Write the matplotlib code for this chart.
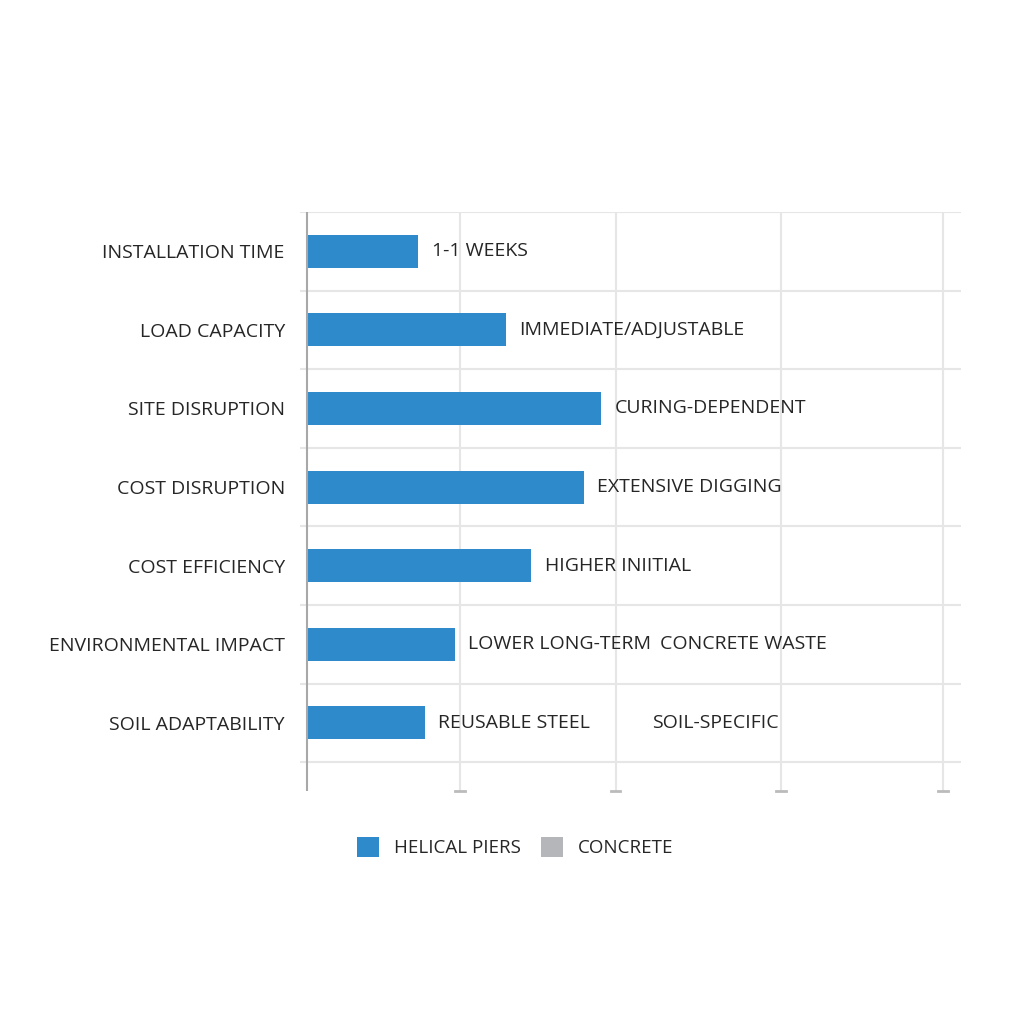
import matplotlib.pyplot as plt

plt.rcParams['font.family'] = ['Open Sans', 'DejaVu Sans']

categories = ['INSTALLATION TIME', 'LOAD CAPACITY', 'SITE DISRUPTION', 'COST DISRUPTION',
              'COST EFFICIENCY', 'ENVIRONMENTAL IMPACT', 'SOIL ADAPTABILITY']
helical_values = [0.70, 1.25, 1.85, 1.74, 1.41, 0.93, 0.74]
helical_labels = ['1-1 WEEKS', 'IMMEDIATE/ADJUSTABLE', 'CURING-DEPENDENT', 'EXTENSIVE DIGGING',
                  'HIGHER INIITIAL', 'LOWER LONG-TERM', 'REUSABLE STEEL']
concrete_values = [0, 0, 0, 0, 0, 0, 0]
concrete_labels = ['', '', '', '', '', 'CONCRETE WASTE', 'SOIL-SPECIFIC']
concrete_label_x = [0, 0, 0, 0, 0, 2.22, 2.17]

blue = '#2F8ACB'
gray = '#B4B6B9'
text_color = '#262626'

fig = plt.figure(figsize=(10.24, 10.24), dpi=100)
ax = fig.add_axes([0.293, 0.228, 0.645, 0.565])

y = range(len(categories))
ax.barh(y, helical_values, height=0.42, color=blue, label='HELICAL PIERS', zorder=3)
ax.barh(y, concrete_values, height=0.42, color=gray, label='CONCRETE', zorder=3)

# value labels next to the bars
for i, (v, lab) in enumerate(zip(helical_values, helical_labels)):
    ax.annotate(lab, (v, i), xytext=(9.5, 0), textcoords='offset points', va='center',
                ha='left', fontsize=14, color=text_color)
for i, lab in enumerate(concrete_labels):
    if lab:
        ax.text(concrete_label_x[i], i, lab, va='center', ha='left', fontsize=14, color=text_color)

ax.set_yticks(list(y))
ax.set_yticklabels(categories, fontsize=14, color=text_color)
ax.set_ylim(6.86, -0.5)
ax.set_xlim(-0.045, 4.11)

for b in [i - 0.5 for i in range(len(categories) + 1)]:
    ax.axhline(b, color='#e6e6e6', lw=1.5, zorder=0)
for g in [0.96, 1.94, 2.98, 4]:
    ax.axvline(g, color='#e6e6e6', lw=1.5, zorder=0)
ax.axvline(0, color='#a8a8a8', lw=1.5, zorder=4)

ax.set_xticks([1, 2, 3, 4])
ax.set_xticklabels([])
ax.tick_params(axis='x', length=0)
for g in [0.96, 1.94, 2.98, 4]:
    ax.plot([g - 0.03, g + 0.03], [6.86, 6.86], color='#bbbbbb', lw=2, clip_on=False, zorder=5)
ax.tick_params(axis='y', length=0, pad=11)
for s in ax.spines.values():
    s.set_visible(False)

fig.legend(loc='center', bbox_to_anchor=(0.503, 0.173), ncol=2, frameon=False,
           fontsize=13.5, handlelength=1.15, handleheight=1.25, columnspacing=1.1,
           labelcolor=text_color)

fig.savefig('out.png', dpi=100, facecolor='white')
